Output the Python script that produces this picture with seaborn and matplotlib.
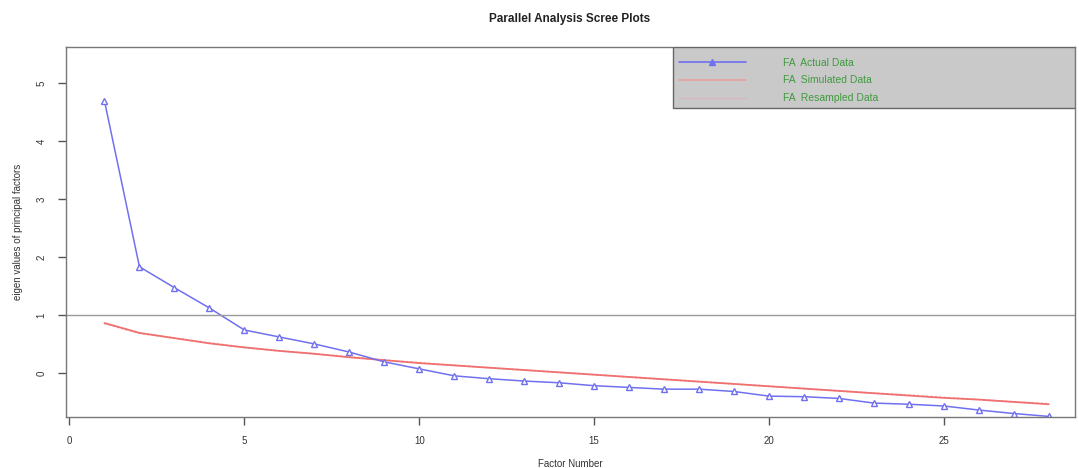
import numpy as np
import pandas as pd
import seaborn as sns
from matplotlib import pyplot as plt
from matplotlib.lines import Line2D
from matplotlib.patches import Rectangle

# values
factors = list(range(1, 29))
actual = [4.69, 1.83, 1.47, 1.12, 0.74, 0.62, 0.50, 0.36, 0.19, 0.07,
          -0.05, -0.10, -0.14, -0.17, -0.22, -0.25, -0.28, -0.28, -0.32, -0.40,
          -0.41, -0.44, -0.52, -0.54, -0.57, -0.64, -0.70, -0.75]
simulated = [0.86, 0.69, 0.60, 0.51, 0.44, 0.38, 0.33, 0.27, 0.22, 0.17,
             0.13, 0.09, 0.05, 0.01, -0.03, -0.07, -0.11, -0.15, -0.19, -0.23,
             -0.27, -0.31, -0.35, -0.39, -0.43, -0.46, -0.50, -0.54]
resampled = [0.85, 0.68, 0.60, 0.52, 0.44, 0.38, 0.33, 0.28, 0.22, 0.18,
             0.13, 0.09, 0.05, 0.01, -0.03, -0.07, -0.11, -0.15, -0.19, -0.23,
             -0.27, -0.31, -0.35, -0.38, -0.42, -0.46, -0.50, -0.53]
legend_labels = ['FA  Actual Data', 'FA  Simulated Data', 'FA  Resampled Data']

df = pd.DataFrame({'factor': factors, 'actual': actual,
                   'simulated': simulated, 'resampled': resampled})

sns.set_style('white')
plt.rcParams['font.family'] = ['Liberation Sans', 'DejaVu Sans']

fig = plt.figure(figsize=(10.79, 4.68), dpi=100)
ax = fig.add_axes([66/1079, 1 - 417/468, (1075 - 66)/1079, (417 - 47)/468])

blue = '#7070f0'
red = '#f07070'

sns.lineplot(data=df, x='factor', y='resampled', ax=ax, color='#f4b0b0',
             linestyle=':', linewidth=1.2)
sns.lineplot(data=df, x='factor', y='simulated', ax=ax, color=red, linewidth=1.3)
sns.lineplot(data=df, x='factor', y='actual', ax=ax, color=blue, linewidth=1.1,
             marker='^', markersize=5, markerfacecolor='white',
             markeredgecolor=blue, markeredgewidth=1.0)

ax.axhline(1, color='#9a9a9a', linewidth=1.0)

ax.set_xlim(-0.1, 28.75)
ax.set_ylim(-0.76, 5.62)
ax.set_xticks([0, 5, 10, 15, 20, 25])
ax.set_yticks([0, 1, 2, 3, 4, 5])
ax.tick_params(axis='both', bottom=True, left=True, length=6, width=1.0,
               color='#555555', labelsize=7, labelcolor='#333333',
               direction='out')
ax.tick_params(axis='x', pad=8)
ax.tick_params(axis='y', pad=8)
plt.setp(ax.get_yticklabels(), rotation=90, va='center')
for s in ax.spines.values():
    s.set_color('#777777')
    s.set_linewidth(1.0)

ax.set_xlabel('Factor Number', fontsize=7, color='#333333', labelpad=9)
ax.set_ylabel('eigen values of principal factors', fontsize=7, color='#333333',
              labelpad=10)
fig.text(570/1079, 1 - 19/468, 'Parallel Analysis Scree Plots',
         ha='center', va='center', fontsize=8.5, fontweight='bold', color='#222222')

# grey legend box as in the reference
ax.add_patch(Rectangle((0.602, 0.835), 0.398, 0.165, transform=ax.transAxes,
                       facecolor='#c9c9c9', edgecolor='#666666', linewidth=1.0,
                       zorder=4))
handles = [
    Line2D([], [], color=blue, marker='^', markersize=4,
           markerfacecolor=blue, linewidth=1.2),
    Line2D([], [], color='#e8a0a0', linewidth=1.2),
    Line2D([], [], color='#d8b8c8', linewidth=1.0),
]
leg = ax.legend(handles, legend_labels, loc='upper left', fontsize=7.5,
                frameon=False, borderaxespad=0, bbox_to_anchor=(0.604, 0.98),
                handlelength=6.5, handletextpad=3.5, labelspacing=0.75,
                borderpad=0.3)
leg.set_zorder(5)
for t in leg.get_texts():
    t.set_color('#3f9a3f')

plt.savefig('out.png', dpi=100)
